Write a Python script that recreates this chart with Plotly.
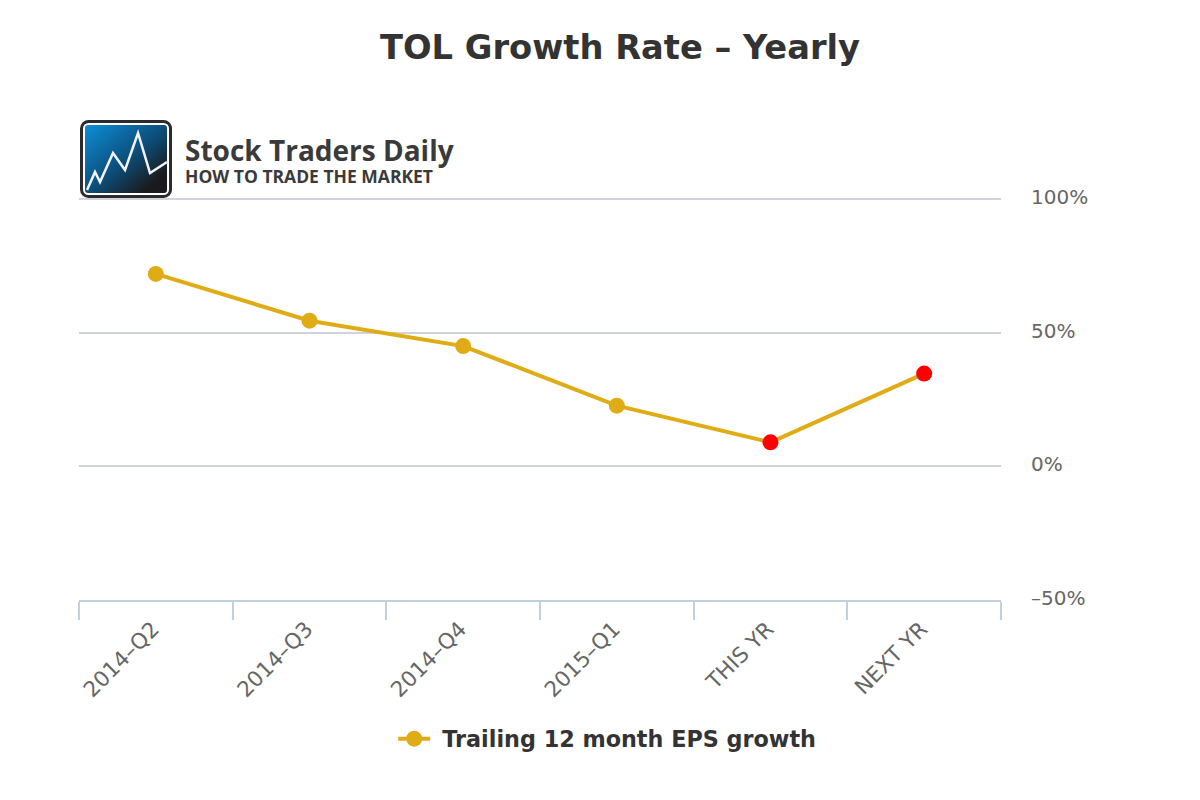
import base64
import plotly.graph_objects as go

categories = ["2014–Q2", "2014–Q3", "2014–Q4", "2015–Q1", "THIS YR", "NEXT YR"]
growth = [72, 54.5, 45, 22.7, 9, 34.7]
marker_colors = ["#DFAC16", "#DFAC16", "#DFAC16", "#DFAC16", "#FF0000", "#FF0000"]
y_ticks = [-50, 0, 50, 100]
y_labels = ["–50%", "0%", "50%", "100%"]

logo_svg = """<svg xmlns="http://www.w3.org/2000/svg" width="92" height="78" viewBox="0 0 92 78">
<defs><linearGradient id="g" x1="0" y1="0" x2="1" y2="1">
<stop offset="0" stop-color="#0d8fd8"/><stop offset="0.5" stop-color="#0c4f7c"/><stop offset="0.85" stop-color="#1a1a1c"/>
</linearGradient></defs>
<rect x="1.5" y="1.5" width="89" height="75" rx="7" fill="#fff" stroke="#2b2b2d" stroke-width="3"/>
<rect x="5" y="5" width="82" height="68" rx="3" fill="url(#g)"/>
<polyline points="7,70 15,52 20,62 33,33 45,50 58,13 70,53 87,42" fill="none" stroke="#f2f2f2" stroke-width="2.5"/>
</svg>"""
logo_uri = "data:image/svg+xml;base64," + base64.b64encode(logo_svg.encode()).decode()

FONT = "DejaVu Sans"

fig = go.Figure(go.Scatter(
    x=categories, y=growth, mode="lines+markers",
    name="\u00a0<b>Trailing 12 month EPS growth</b>",
    line=dict(color="#DFAC16", width=4),
    marker=dict(color=marker_colors, size=16),
))

fig.update_layout(
    width=1200, height=800,
    paper_bgcolor="white", plot_bgcolor="white",
    margin=dict(l=79, r=199, t=198, b=200, pad=0),
    font=dict(family=FONT, color="#666666"),
    title=dict(text="<b>TOL Growth Rate – Yearly</b>", x=0.5167, xanchor="center",
               y=0.941, yanchor="middle",
               font=dict(family=FONT, size=33.7, color="#333333")),
    showlegend=True,
    legend=dict(orientation="h", x=0.5729, xanchor="center", y=-0.345, yanchor="middle",
                font=dict(family=FONT, size=22.3, color="#333333"),
                itemwidth=32),
    xaxis=dict(
        type="category", categoryorder="array", categoryarray=categories,
        range=[-0.5, 5.5], tickson="boundaries", ticks="outside", ticklen=18,
        tickwidth=2, tickcolor="#C0D0E0", showline=True, linecolor="#C0D0E0",
        linewidth=2, showgrid=False, tickangle=-45, ticklabelstandoff=6, ticklabelshift=-3,
        tickfont=dict(family=FONT, size=21.5, color="#666666"),
    ),
    yaxis=dict(
        range=[-50, 100.4], tickvals=y_ticks, ticktext=y_labels, side="right",
        showgrid=True, gridcolor="#D0D4DA", gridwidth=2, zeroline=False,
        showline=False, ticks="", ticklabelstandoff=29, ticklabelshift=-2,
        tickfont=dict(family=FONT, size=20, color="#666666"),
    ),
    images=[dict(source=logo_uri, xref="paper", yref="paper", x=0.0011, y=1.194,
                 sizex=0.0998, sizey=0.194, xanchor="left", yanchor="top", sizing="stretch")],
    annotations=[
        dict(text="<b>Stock Traders Daily</b>", xref="paper", yref="paper", x=0.1128, y=1.119,
             xanchor="left", yanchor="middle", showarrow=False,
             font=dict(family="Open Sans", size=28, color="#3a3a3a")),
        dict(text="<b>HOW TO TRADE THE MARKET</b>", xref="paper", yref="paper", x=0.1128, y=1.0547,
             xanchor="left", yanchor="middle", showarrow=False,
             font=dict(family="Open Sans", size=17.5, color="#3a3a3a")),
    ],
)

fig.write_html("out.html", config={"displayModeBar": False},
               post_script="document.body.style.margin='0';")
